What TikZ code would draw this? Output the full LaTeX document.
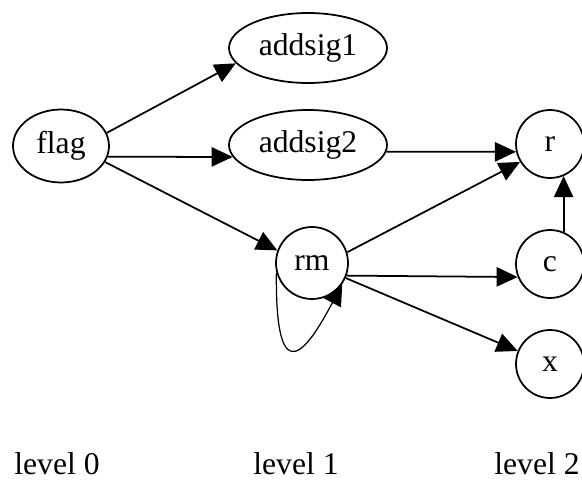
\documentclass[tikz,border=0pt]{standalone}
\usepackage{fontspec}
\setmainfont{Liberation Serif}
\usetikzlibrary{arrows.meta,shapes.geometric}

\begin{document}
\begin{tikzpicture}[x=0.02cm,y=-0.02cm,font=\fontsize{18}{21}\selectfont,
            oval/.style={ellipse,draw,line width=1pt,inner sep=0pt,
                         minimum width=3.16cm,minimum height=1.40cm},
            var/.style={circle,draw,line width=1pt,inner sep=0pt,
                        minimum size=1.36cm},
            lvl/.style={anchor=base,inner sep=1pt},
            arr/.style={-{Triangle[length=12pt,width=11pt]},line width=1pt}]
            \useasboundingbox (0,0) rectangle (582,480);
            % level 0
            \node[oval,minimum width=1.92cm,minimum height=1.46cm]
                       (flag) at (61,146)  {flag};
            % level 1
            \node[oval] (sig1) at (308,48)  {addsig1};
            \node[oval] (sig2) at (308,145) {addsig2};
            \node[var,minimum size=1.44cm] (rm) at (312,263) {rm};
            % level 2
            \node[var] (r) at (550,144) {r};
            \node[var] (c) at (550,264) {c};
            \node[var] (x) at (550,364) {x};
            \node[lvl] (l0) at (57,474)  {level 0};
            \node[lvl] (l1) at (296,474) {level 1};
            \node[lvl] (l2) at (537,474) {level 2};
            \draw[arr] (flag.16)--(sig1.192); \draw[arr] (flag.-13.5)--(sig2.189);
            \draw[arr] (flag.-20)--(rm.160); \draw[arr] (sig2.-5)--(r.193);
            \draw[arr] (rm.17)--(r.211);  \draw[arr] (rm.-20)--(c.202);
            \draw[arr] (rm.-24)--(x.158); \draw[arr] (c.67)--(r.-67);
            \draw[arr,line width=0.7pt] (rm.195) .. controls (275,400) and (310,345) .. (rm.-35);
        \end{tikzpicture}
\end{document}
